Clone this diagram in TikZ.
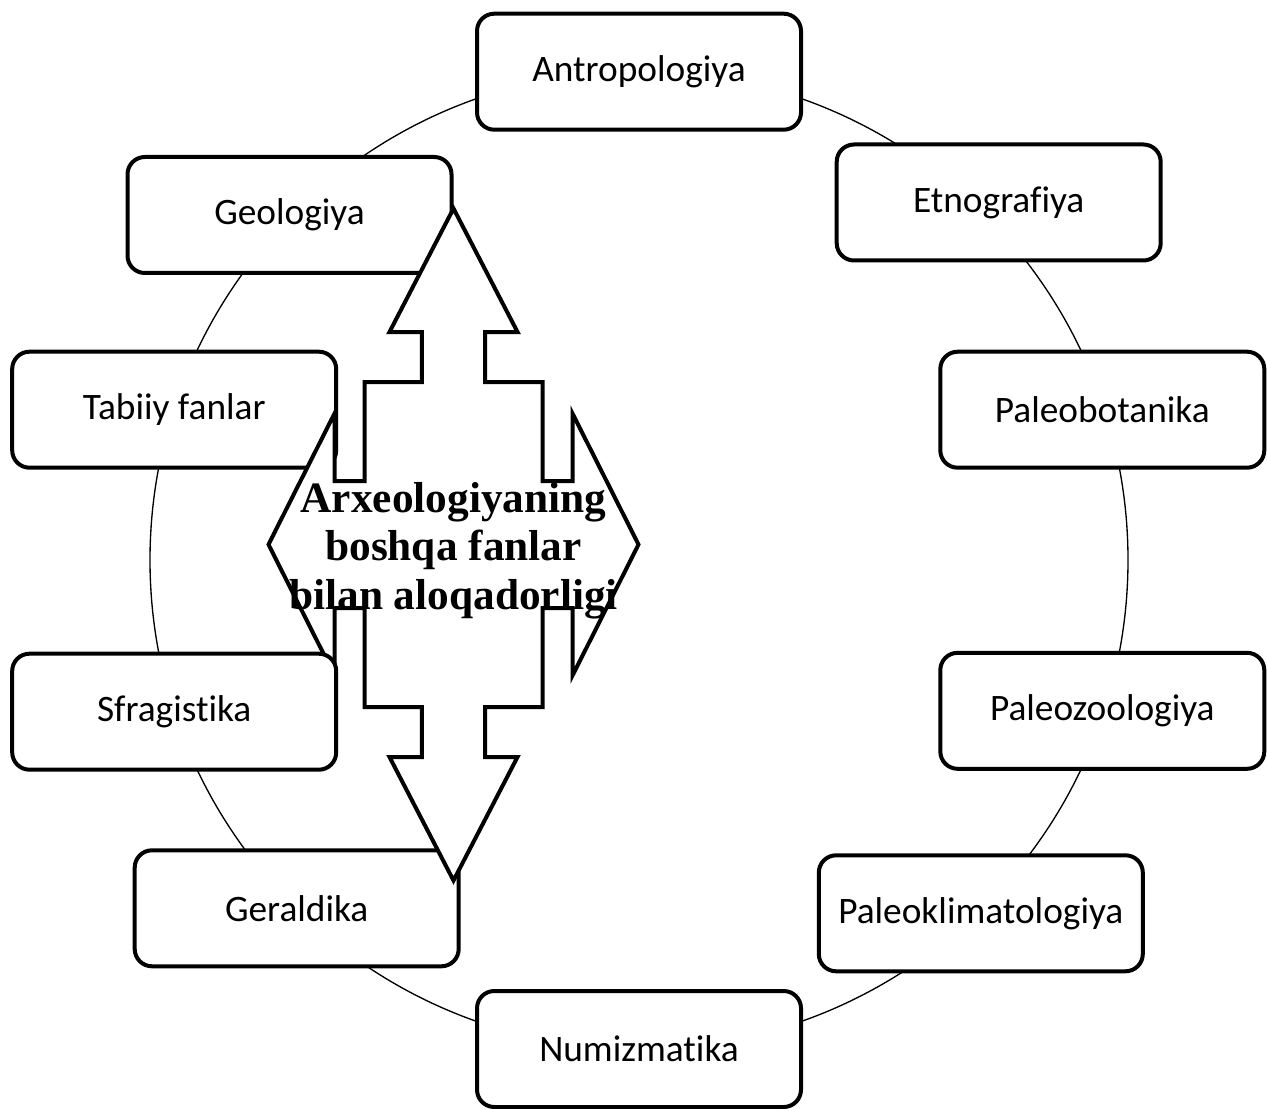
\documentclass[tikz,border=0pt]{standalone}
\usepackage{fontspec}
\setmainfont{Carlito}[Ligatures=NoCommon]
\newfontfamily\serifbold{Liberation Serif}
\begin{document}
\begin{tikzpicture}[x=0.75pt,y=-0.75pt,
  box/.style={draw, line width=3pt, rounded corners=13pt, fill=white,
    minimum width=243pt, minimum height=87pt, inner sep=0pt,
    font=\fontsize{28}{33}\selectfont},
  bigarrow/.style={draw, line width=3pt, fill=white, line join=miter},
  ring/.style={draw, line width=1pt},
  titletext/.style={font=\serifbold\bfseries\fontsize{32.5}{36.4}\selectfont,
    align=center, inner sep=0pt}]
\useasboundingbox (0,0) rectangle (1267,1109);
\coordinate (ringc) at (639,560);
\draw[ring] (ringc) circle [radius=489];

\node[box] (antro)  at (639,71.7)    {Antropologiya};
\node[box] (etno)   at (998.7,202.5) {Etnografiya};
\node[box] (paleob) at (1102.3,409.7) {Paleobotanika};
\node[box] (paleoz) at (1102.3,710.8) {Paleozoologiya};
\node[box] (paleok) at (980.8,913.3) {Paleoklimatologiya};
\node[box] (numiz)  at (639,1049)    {Numizmatika};
\node[box] (geral)  at (296.7,908.3) {Geraldika};
\node[box] (tabiiy) at (174.2,409.7) {Tabiiy fanlar};
\node[box] (geol)   at (289.5,215)   {Geologiya};

\coordinate (hub) at (453.5,544.5);
\path[bigarrow, shift={(hub)}]
  (0,-336) -- (64,-212.5) -- (31.7,-212.5) -- (31.7,-162.5) -- (89,-162.5)
  -- (89,-63.5) -- (119,-63.5) -- (119,-131) -- (185,0) -- (119,131)
  -- (119,63.5) -- (89,63.5) -- (89,162.5) -- (31.7,162.5) -- (31.7,212.5)
  -- (64,212.5) -- (0,336) -- (-64,212.5) -- (-31.7,212.5) -- (-31.7,162.5)
  -- (-89,162.5) -- (-89,63.5) -- (-119,63.5) -- (-119,131) -- (-185,0)
  -- (-119,-131) -- (-119,-63.5) -- (-89,-63.5) -- (-89,-162.5)
  -- (-31.7,-162.5) -- (-31.7,-212.5) -- (-64,-212.5) -- cycle;

\node[box] (sfrag)  at (174.2,711.7) {Sfragistika};

\node[titletext] (title) at (453.5,550.5)
  {Arxeologiyaning\\boshqa fanlar\\bilan aloqadorligi};
\end{tikzpicture}
\end{document}
